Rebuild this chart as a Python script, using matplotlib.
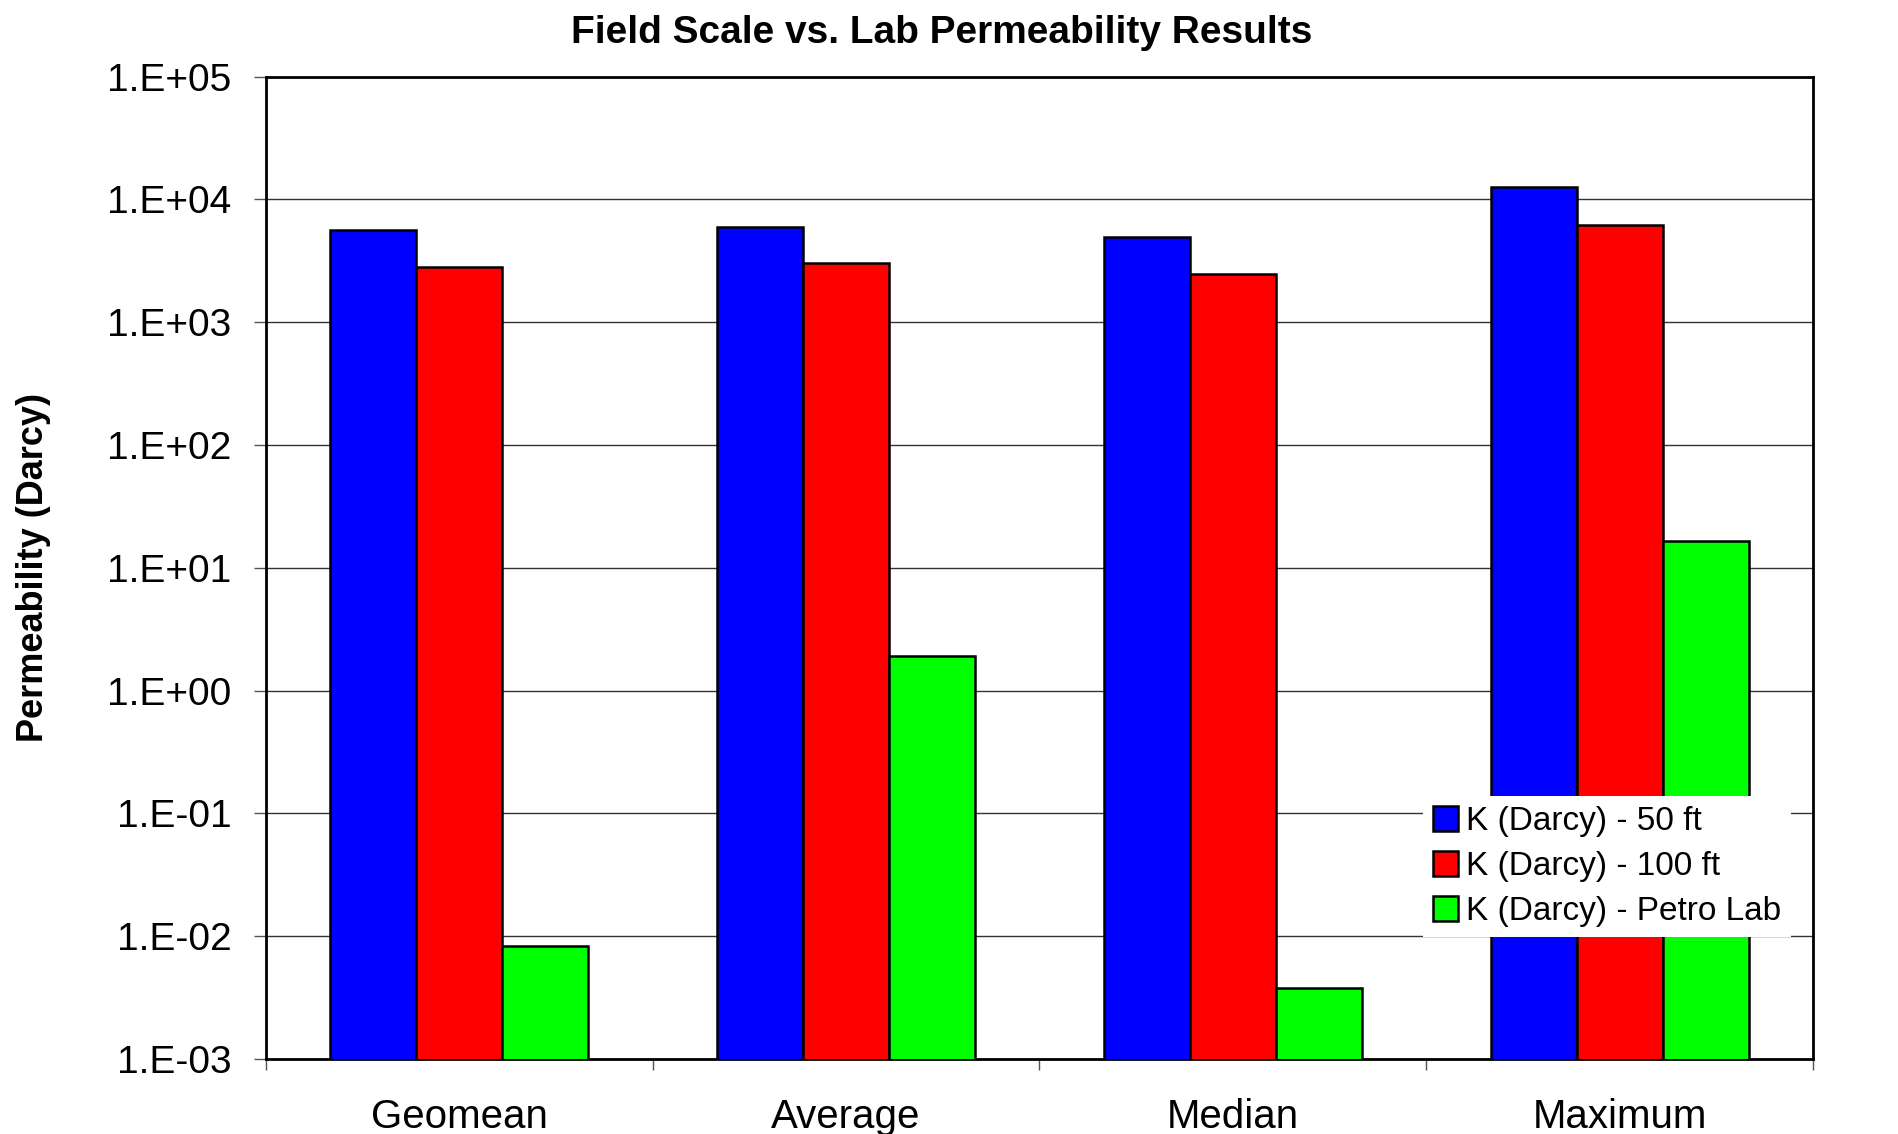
import matplotlib
matplotlib.use("Agg")
import matplotlib.pyplot as plt
import matplotlib.ticker as ticker
from matplotlib.patches import Patch
import numpy as np

plt.rcParams["font.family"] = ["Liberation Sans", "DejaVu Sans"]

# ── Data ────────────────────────────────────────────
categories = ["Geomean", "Average", "Median", "Maximum"]
k_50ft = [5620, 5950, 4950, 12500]
k_100ft = [2790, 3050, 2480, 6180]
k_petro = [0.0083, 1.90, 0.00379, 16.6]
series_names = ["K (Darcy) - 50 ft", "K (Darcy) - 100 ft", "K (Darcy) - Petro Lab"]
y_ticks = [1e-3, 1e-2, 1e-1, 1e0, 1e1, 1e2, 1e3, 1e4, 1e5]
y_tick_labels = ["1.E-03", "1.E-02", "1.E-01", "1.E+00", "1.E+01",
                 "1.E+02", "1.E+03", "1.E+04", "1.E+05"]

colors = ["#0000FF", "#FF0000", "#00FF00"]

fig = plt.figure(figsize=(18.98, 11.34), dpi=100)
ax = fig.add_axes([0.1401, 0.0661, 0.9552 - 0.1401, 0.9325 - 0.0661])

x = np.arange(len(categories))
width = 1 / 4.5
series = [k_50ft, k_100ft, k_petro]
ax.set_yscale("log")
for i, vals in enumerate(series):
    ax.bar(x + (i - 1) * width, vals, width=width,
           color=colors[i], edgecolor="black", linewidth=1.8, zorder=3)

ax.set_ylim(1e-3, 1e5)
ax.set_xlim(-0.5, len(categories) - 0.5)

ax.yaxis.set_major_locator(ticker.FixedLocator(y_ticks))
ax.yaxis.set_minor_locator(ticker.NullLocator())
ax.set_yticklabels(y_tick_labels)
ax.grid(axis="y", which="major", color="#333333", linewidth=1.0, zorder=0)

# category boundaries as ticks, names centred between
ax.xaxis.set_major_locator(ticker.FixedLocator(np.arange(len(categories) + 1) - 0.5))
ax.xaxis.set_major_formatter(ticker.NullFormatter())
ax.xaxis.set_minor_locator(ticker.FixedLocator(x))
ax.xaxis.set_minor_formatter(ticker.FixedFormatter(categories))

ax.tick_params(axis="y", which="major", direction="out", length=8.6, width=1.0,
               pad=16, labelsize=28, color="#555555")
ax.tick_params(axis="x", which="major", direction="out", length=8, width=1.0,
               color="#555555")
ax.tick_params(axis="x", which="minor", length=0, pad=28, labelsize=29)

for sp in ax.spines.values():
    sp.set_linewidth(2.0)
    sp.set_color("black")

fig.suptitle("Field Scale vs. Lab Permeability Results", x=0.4963, y=0.971,
             fontsize=28, fontweight="bold", va="center")
fig.text(0.0175, 0.5, "Permeability (Darcy)", rotation=90, va="center", ha="center",
         fontsize=26, fontweight="bold")

handles = [Patch(facecolor=c, edgecolor="black", linewidth=1.8) for c in colors]
leg = ax.legend(handles, series_names, loc="upper left",
                bbox_to_anchor=(1423 / 1898, 1 - 796 / 1134),
                bbox_transform=fig.transFigure, fontsize=24,
                frameon=True, fancybox=False, framealpha=1,
                facecolor="white", edgecolor="none",
                handlelength=0.75, handleheight=0.75, handletextpad=0.25,
                labelspacing=0.42, borderpad=0.3, borderaxespad=0)
leg.set_zorder(5)

fig.savefig("out.png", dpi=100)
